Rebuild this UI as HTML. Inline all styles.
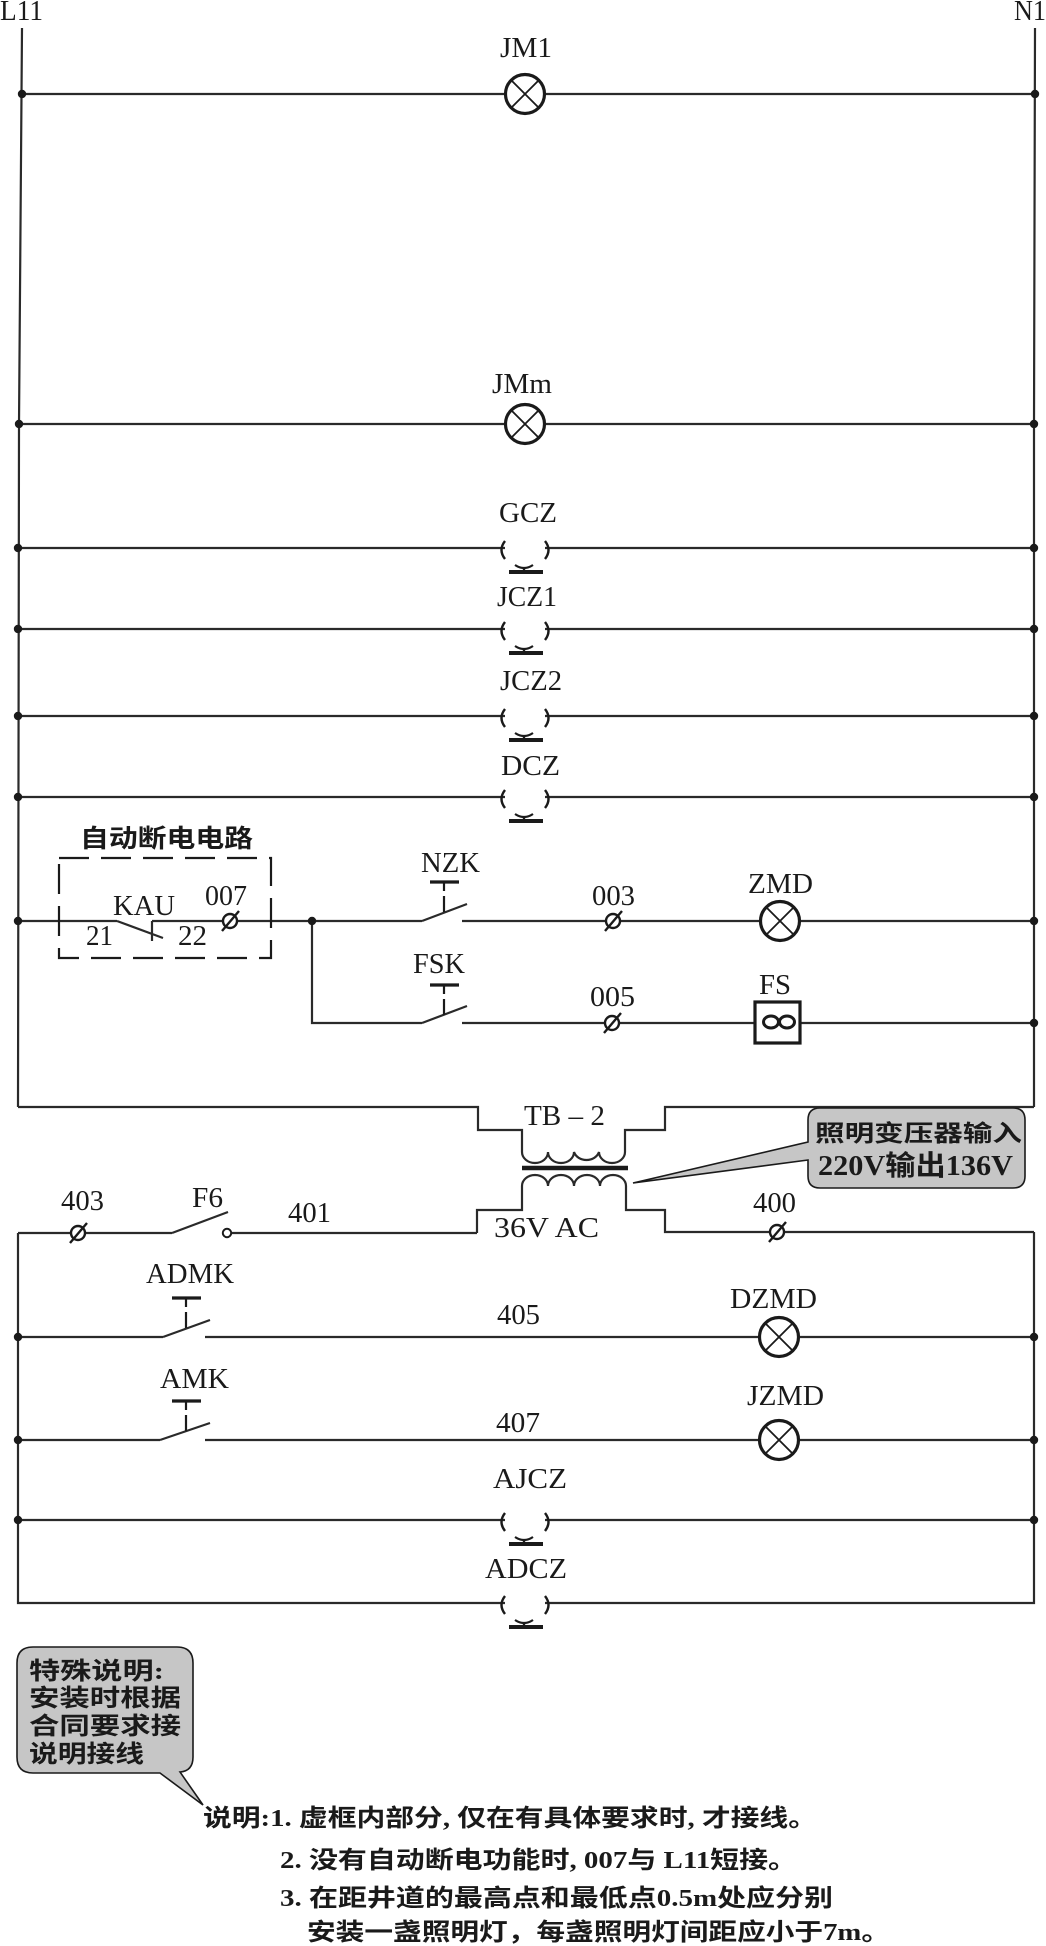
<!DOCTYPE html>
<html><head><meta charset="utf-8">
<style>
html,body{margin:0;padding:0;background:#fff;}
svg{display:block;}
.l{font-family:"Liberation Serif",serif;font-size:29px;fill:#1a1a1a;}
.c{font-family:"Liberation Serif","Noto Sans CJK SC",sans-serif;fill:#1a1a1a;}
.b{font-weight:bold;}
</style></head><body>
<svg width="1046" height="1946" viewBox="0 0 1046 1946" xmlns="http://www.w3.org/2000/svg">
<defs>
  <g id="lamp">
    <circle cx="0" cy="0" r="19.5" fill="#fff" stroke="#1a1a1a" stroke-width="3.2"/>
    <path d="M-13.5,-13.5 L13.5,13.5 M13.5,-13.5 L-13.5,13.5" stroke="#1a1a1a" stroke-width="1.8"/>
  </g>
  <g id="term">
    <circle cx="0" cy="0" r="7" fill="#fff" stroke="#1a1a1a" stroke-width="2.4"/>
    <path d="M-8,10 L9,-10" stroke="#1a1a1a" stroke-width="2.4"/>
  </g>
  <g id="sock" fill="none" stroke="#1a1a1a">
    <path d="M-20,-7 Q-27,2 -20,11" stroke-width="2.4"/>
    <path d="M20,-7 Q27,2 20,11" stroke-width="2.4"/>
    <path d="M-10,17 Q-1,23 8,17" stroke-width="2.2"/>
    <path d="M-1,20 L-1,23" stroke-width="2.4"/>
    <rect x="-16" y="22" width="34" height="4" fill="#1a1a1a" stroke="none"/>
  </g>
</defs>

<!-- ===== wires ===== -->
<g fill="none" stroke="#2a2a2a" stroke-width="2.2">
  <path d="M22,28 L19,424 L18,1107"/>
  <path d="M1035,28 L1034,424 L1034,1107"/>
  <path d="M22,94 L1035,94"/>
  <path d="M19,424 L1034,424"/>
  <path d="M18,548 L505,548 M545,548 L1034,548"/>
  <path d="M18,629 L505,629 M545,629 L1034,629"/>
  <path d="M18,716 L505,716 M545,716 L1034,716"/>
  <path d="M18,797 L505,797 M545,797 L1034,797"/>
  <path d="M18,921 L117,921 M117,921 L163,938 M152,921 L152,941 M152,921 L422,921 M422,921 L467,904 M462,921 L1034,921"/>
  <path d="M312,921 L312,1023 L422,1023 M422,1023 L467,1006 M462,1023 L1034,1023"/>
  <path d="M18,1107 L478,1107 L478,1130 L522,1130 L522,1152 A13,11 0 0 0 548,1152 A13,11 0 0 0 574,1152 A13,11 0 0 0 599,1152 A13,11 0 0 0 625,1152 L625,1130 L665,1130 L665,1107 L1034,1107"/>
  <path d="M477,1233 L477,1210 L522,1210 L522,1186 A13,11 0 0 1 548,1186 A13,11 0 0 1 574,1186 A13,11 0 0 1 600,1186 A13,11 0 0 1 626,1186 L626,1210 L665,1210 L665,1232 L1034,1232"/>
  <path d="M18,1233 L172,1233 M172,1233 L228,1212 M231,1233 L477,1233"/>
  <path d="M18,1233 L18,1603 L505,1603 M545,1603 L1034,1603 L1034,1232"/>
  <path d="M18,1337 L163,1337 M163,1337 L210,1320 M205,1337 L1034,1337"/>
  <path d="M18,1440 L160,1440 M160,1440 L210,1423 M205,1440 L1034,1440"/>
  <path d="M18,1520 L505,1520 M545,1520 L1034,1520"/>
</g>

<path d="M522,1168 L628,1168" stroke="#1a1a1a" stroke-width="4.5"/>

<g stroke="#1a1a1a" fill="none">
  <path d="M430,882 L459,882 M430,985 L459,985 M172,1298 L201,1298 M172,1401 L201,1401" stroke-width="3.2"/>
  <path d="M444,882 L444,891 M444,896 L444,912 M444,985 L444,994 M444,999 L444,1015 M186,1298 L186,1307 M186,1312 L186,1328 M186,1401 L186,1410 M186,1415 L186,1431" stroke-width="2.2"/>
</g>

<rect x="59" y="858" width="212" height="100" fill="none" stroke="#1a1a1a" stroke-width="2.2" stroke-dasharray="30 12"/>

<circle cx="227" cy="1233" r="4.2" fill="#fff" stroke="#1a1a1a" stroke-width="2"/>

<g fill="#1a1a1a">
  <circle cx="22" cy="94" r="4.2"/><circle cx="1035" cy="94" r="4.2"/>
  <circle cx="19" cy="424" r="4.2"/><circle cx="1034" cy="424" r="4.2"/>
  <circle cx="18" cy="548" r="4.2"/><circle cx="1034" cy="548" r="4.2"/>
  <circle cx="18" cy="629" r="4.2"/><circle cx="1034" cy="629" r="4.2"/>
  <circle cx="18" cy="716" r="4.2"/><circle cx="1034" cy="716" r="4.2"/>
  <circle cx="18" cy="797" r="4.2"/><circle cx="1034" cy="797" r="4.2"/>
  <circle cx="18" cy="921" r="4.2"/><circle cx="312" cy="921" r="4.2"/><circle cx="1034" cy="921" r="4.2"/>
  <circle cx="1034" cy="1023" r="4.2"/>
  <circle cx="18" cy="1337" r="4.2"/><circle cx="1034" cy="1337" r="4.2"/>
  <circle cx="18" cy="1440" r="4.2"/><circle cx="1034" cy="1440" r="4.2"/>
  <circle cx="18" cy="1520" r="4.2"/><circle cx="1034" cy="1520" r="4.2"/>
</g>

<use href="#lamp" x="525" y="94"/>
<use href="#lamp" x="525" y="424"/>
<use href="#lamp" x="780" y="921"/>
<use href="#lamp" x="779" y="1337"/>
<use href="#lamp" x="779" y="1440"/>

<use href="#sock" x="525" y="548"/>
<use href="#sock" x="525" y="629"/>
<use href="#sock" x="525" y="716"/>
<use href="#sock" x="525" y="797"/>
<use href="#sock" x="525" y="1520"/>
<use href="#sock" x="525" y="1603"/>

<use href="#term" x="230" y="921"/>
<use href="#term" x="613" y="921"/>
<use href="#term" x="612" y="1023"/>
<use href="#term" x="78" y="1233"/>
<use href="#term" x="777" y="1232"/>

<rect x="755" y="1002" width="45" height="41" fill="#fff" stroke="#1a1a1a" stroke-width="3.2"/>
<ellipse cx="771" cy="1022" rx="7.5" ry="6" fill="none" stroke="#1a1a1a" stroke-width="3"/>
<ellipse cx="787" cy="1022" rx="7.5" ry="6" fill="none" stroke="#1a1a1a" stroke-width="3"/>

<g class="l">
  <text x="0" y="20" textLength="43" lengthAdjust="spacingAndGlyphs">L11</text>
  <text x="1014" y="20" textLength="32" lengthAdjust="spacingAndGlyphs">N1</text>
  <text x="500" y="57" textLength="52" lengthAdjust="spacingAndGlyphs">JM1</text>
  <text x="492" y="393" textLength="60" lengthAdjust="spacingAndGlyphs">JMm</text>
  <text x="499" y="522" textLength="58" lengthAdjust="spacingAndGlyphs">GCZ</text>
  <text x="497" y="606" textLength="60" lengthAdjust="spacingAndGlyphs">JCZ1</text>
  <text x="500" y="690" textLength="62" lengthAdjust="spacingAndGlyphs">JCZ2</text>
  <text x="501" y="775" textLength="59" lengthAdjust="spacingAndGlyphs">DCZ</text>
  <text x="113" y="915" textLength="62" lengthAdjust="spacingAndGlyphs">KAU</text>
  <text x="205" y="905" textLength="42" lengthAdjust="spacingAndGlyphs">007</text>
  <text x="86" y="945" textLength="27" lengthAdjust="spacingAndGlyphs">21</text>
  <text x="178" y="945" textLength="29" lengthAdjust="spacingAndGlyphs">22</text>
  <text x="421" y="872" textLength="59" lengthAdjust="spacingAndGlyphs">NZK</text>
  <text x="413" y="973" textLength="52" lengthAdjust="spacingAndGlyphs">FSK</text>
  <text x="592" y="905" textLength="43" lengthAdjust="spacingAndGlyphs">003</text>
  <text x="748" y="893" textLength="65" lengthAdjust="spacingAndGlyphs">ZMD</text>
  <text x="590" y="1006" textLength="45" lengthAdjust="spacingAndGlyphs">005</text>
  <text x="759" y="994" textLength="32" lengthAdjust="spacingAndGlyphs">FS</text>
  <text x="524" y="1125" textLength="81" lengthAdjust="spacingAndGlyphs">TB – 2</text>
  <text x="494" y="1237" textLength="105" lengthAdjust="spacingAndGlyphs">36V  AC</text>
  <text x="61" y="1210" textLength="43" lengthAdjust="spacingAndGlyphs">403</text>
  <text x="192" y="1207" textLength="31" lengthAdjust="spacingAndGlyphs">F6</text>
  <text x="288" y="1222" textLength="43" lengthAdjust="spacingAndGlyphs">401</text>
  <text x="753" y="1212" textLength="43" lengthAdjust="spacingAndGlyphs">400</text>
  <text x="146" y="1283" textLength="88" lengthAdjust="spacingAndGlyphs">ADMK</text>
  <text x="497" y="1324" textLength="43" lengthAdjust="spacingAndGlyphs">405</text>
  <text x="730" y="1308" textLength="87" lengthAdjust="spacingAndGlyphs">DZMD</text>
  <text x="160" y="1388" textLength="69" lengthAdjust="spacingAndGlyphs">AMK</text>
  <text x="496" y="1432" textLength="44" lengthAdjust="spacingAndGlyphs">407</text>
  <text x="747" y="1405" textLength="77" lengthAdjust="spacingAndGlyphs">JZMD</text>
  <text x="493" y="1488" textLength="74" lengthAdjust="spacingAndGlyphs">AJCZ</text>
  <text x="485" y="1578" textLength="82" lengthAdjust="spacingAndGlyphs">ADCZ</text>
</g>

<text class="c b" x="80" y="847" font-size="25" textLength="173" lengthAdjust="spacingAndGlyphs">自动断电电路</text>

<path d="M820,1108 L1013,1108 Q1025,1108 1025,1120 L1025,1176 Q1025,1188 1013,1188 L820,1188 Q808,1188 808,1176 L808,1160 L633,1183 L808,1142 L808,1120 Q808,1108 820,1108 Z" fill="#c6c6c6" stroke="#1a1a1a" stroke-width="1.6"/>
<text class="c b" x="815" y="1141" font-size="23" textLength="207" lengthAdjust="spacingAndGlyphs">照明变压器输入</text>
<text class="c b" x="818" y="1175" font-size="28" textLength="195" lengthAdjust="spacingAndGlyphs">220V输出136V</text>

<path d="M33,1647 L177,1647 Q193,1647 193,1663 L193,1757 Q193,1771 180,1772 L203,1805 L160,1773 L33,1773 Q17,1773 17,1757 L17,1663 Q17,1647 33,1647 Z" fill="#c6c6c6" stroke="#1a1a1a" stroke-width="1.6"/>
<g class="c b" font-size="24">
  <text x="29" y="1679" textLength="135" lengthAdjust="spacingAndGlyphs">特殊说明:</text>
  <text x="29" y="1706" textLength="152" lengthAdjust="spacingAndGlyphs">安装时根据</text>
  <text x="29" y="1734" textLength="152" lengthAdjust="spacingAndGlyphs">合同要求接</text>
  <text x="29" y="1762" textLength="115" lengthAdjust="spacingAndGlyphs">说明接线</text>
</g>

<g class="c b" font-size="24">
  <text x="203" y="1826" textLength="614" lengthAdjust="spacingAndGlyphs">说明:1. 虚框内部分, 仅在有具体要求时, 才接线。</text>
  <text x="280" y="1868" textLength="517" lengthAdjust="spacingAndGlyphs">2. 没有自动断电功能时, 007与 L11短接。</text>
  <text x="280" y="1906" textLength="553" lengthAdjust="spacingAndGlyphs">3. 在距井道的最高点和最低点0.5m处应分别</text>
  <text x="307" y="1940" textLength="583" lengthAdjust="spacingAndGlyphs">安装一盏照明灯，每盏照明灯间距应小于7m。</text>
</g>
</svg>
</body></html>
